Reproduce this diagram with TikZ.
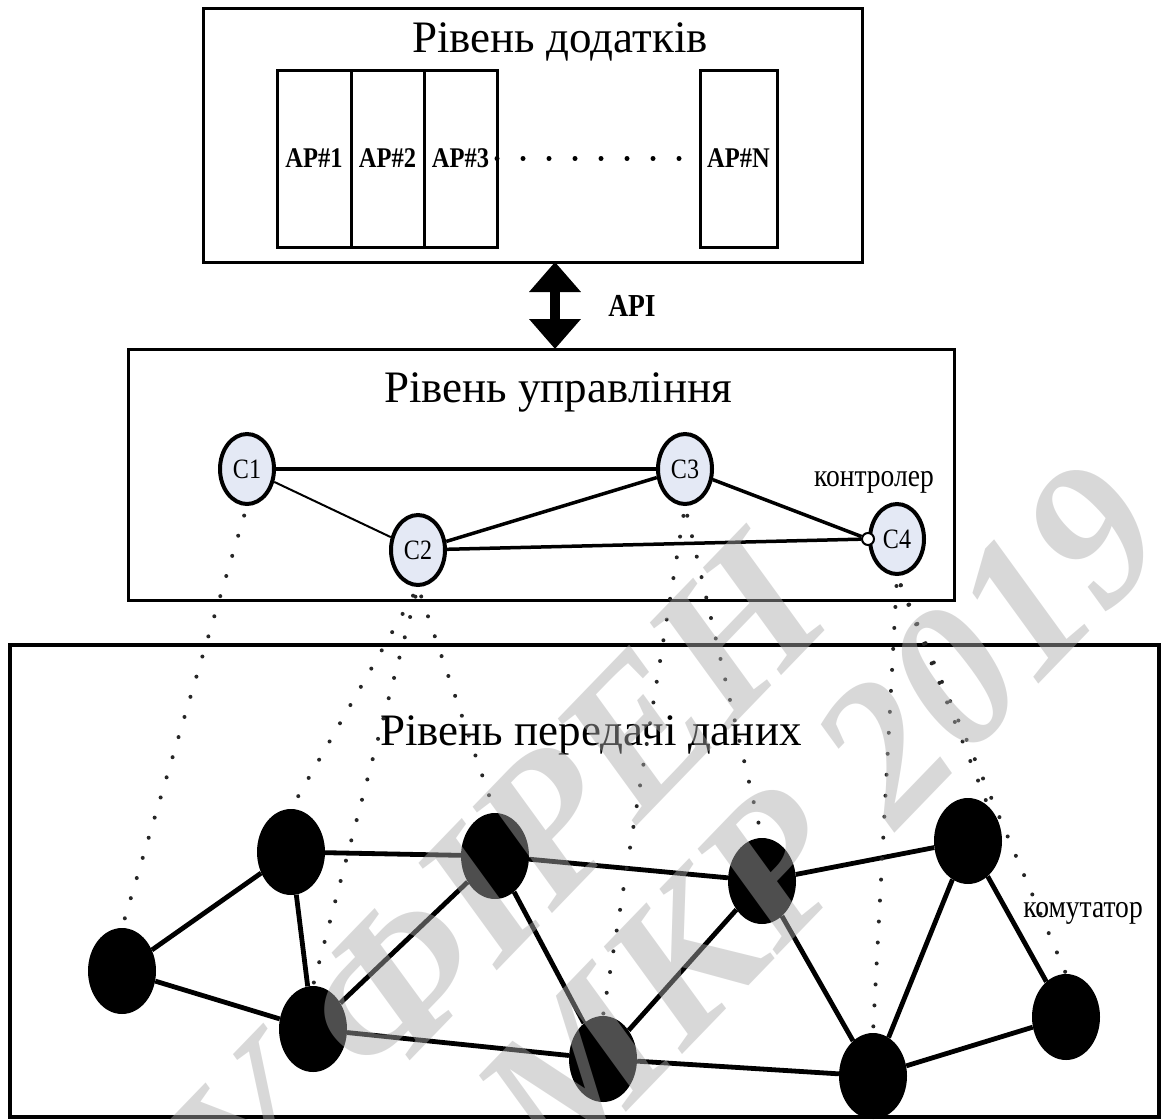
\documentclass[tikz,border=0pt]{standalone}
\usepackage{fontspec}
\setmainfont{Liberation Serif}
\newfontfamily\narrowfont[FakeStretch=0.86]{Liberation Serif}
\usetikzlibrary{shapes.geometric,arrows.meta}

\definecolor{ctrlfill}{RGB}{228,233,245}
\definecolor{dotgray}{gray}{0.15}
\definecolor{markgray}{gray}{0.67}

\begin{document}
\begin{tikzpicture}[x=1pt,y=-1pt,
  layer/.style={draw, line width=3pt, inner sep=0pt, outer sep=0pt},
  title/.style={font=\fontsize{45}{50}\selectfont, anchor=base, inner sep=0pt},
  appbox/.style={draw, line width=3pt, minimum height=177pt, inner sep=0pt, outer sep=0pt,
    font=\narrowfont\bfseries\fontsize{28.5}{30}\selectfont},
  ctrl/.style={ellipse, draw, line width=4pt, fill=ctrlfill, minimum width=54pt,
    minimum height=70pt, inner sep=0pt, font=\narrowfont\fontsize{28}{30}\selectfont},
  switch/.style={ellipse, fill=black, minimum width=68pt, minimum height=86pt, inner sep=0pt},
  clink/.style={line width=3.5pt},
  slink/.style={line width=4.8pt},
  mapline/.style={draw=dotgray, line width=4pt, line cap=round,
    dash pattern=on 0pt off 21pt, dash phase=11pt},
  note/.style={font=\narrowfont\fontsize{32}{34}\selectfont, anchor=base, inner sep=0pt},
  stamp/.style={font=\bfseries\itshape\fontsize{200}{200}\selectfont, text=markgray,
    text opacity=0.46, rotate=46, inner sep=0pt}
]
\useasboundingbox (0,0) rectangle (1164,1119);
\fill[white] (0,0) rectangle (1164,1119);

% the three layers
\node[layer, minimum width=659pt, minimum height=254pt] (apps) at (532.5,135) {};
\node[layer, minimum width=826pt, minimum height=251pt] (ctl) at (541,474.5) {};
\node[layer, line width=3.5pt, minimum width=1149pt, minimum height=472pt] (data) at (584.5,881) {};

\node[title] (tapps) at (560,52) {Рівень додатків};
\node[title] (tctl) at (558,402) {Рівень управління};
\node[title] (tdata) at (591,745) {Рівень передачі даних};

% applications
\node[appbox, minimum width=74pt] (ap1) at (314,158.5) {AP\#1};
\node[appbox, minimum width=73pt] (ap2) at (387.5,158.5) {AP\#2};
\node[appbox, minimum width=73pt] (ap3) at (460.5,158.5) {AP\#3};
\node[appbox, minimum width=77pt] (apn) at (738.5,158.5) {AP\#N};
\draw[line width=5pt, line cap=round, dash pattern=on 0pt off 26pt] (ap3.east) -- (apn.west);

% northbound interface
\coordinate (apix) at (555,0);
\draw[line width=10pt, {Triangle[width=50pt,length=30pt]}-{Triangle[width=50pt,length=30pt]}]
  (apps.south -| apix) -- (ctl.north -| apix);
\node[font=\narrowfont\bfseries\fontsize{32}{34}\selectfont, anchor=base, inner sep=0pt]
  (api) at (632,316) {API};

% controllers
\node[ctrl] (c1) at (247,469) {C1};
\node[ctrl] (c2) at (418,550) {C2};
\node[ctrl] (c3) at (685,469) {C3};
\node[ctrl] (c4) at (897,539) {C4};
\node[circle, draw, line width=2pt, fill=white, minimum size=12pt, inner sep=0pt] (port) at (c4.west) {};
\node[note] (lctrl) at (874,486) {контролер};

\draw[line width=2pt] (c1) -- (c2);
\draw[clink] (c1) -- (c3);
\draw[clink] (c2) -- (c3);
\draw[clink] (c2) -- (port);
\draw[clink] (c3) -- (port);

% switches
\node[switch] (s1) at (122,971) {};
\node[switch] (s2) at (291,852) {};
\node[switch] (s3) at (313,1029) {};
\node[switch] (s4) at (495,856) {};
\node[switch] (s5) at (603,1059) {};
\node[switch] (s6) at (762,881) {};
\node[switch] (s7) at (968,841) {};
\node[switch] (s8) at (873,1076) {};
\node[switch] (s9) at (1066,1017) {};
\node[note] (lsw) at (1083,917) {комутатор};

\foreach \a/\b in {s1/s2, s1/s3, s2/s3, s2/s4, s3/s4, s3/s5, s4/s5, s4/s6,
                   s5/s6, s5/s8, s6/s7, s6/s8, s7/s8, s7/s9, s8/s9}
  \draw[slink] (\a) -- (\b);

% controller-to-switch assignments
\draw[mapline] (c1.south) -- (s1.north);
\draw[mapline] (c2.south) -- (s2.north);
\draw[mapline] (c2.south) -- (s3.north);
\draw[mapline] (c2.south) -- (s4.north);
\draw[mapline] (c3.south) -- (s5.north);
\draw[mapline] (c3.south) -- (s6.north);
\draw[mapline] (c4.south) -- (s8.north);
\draw[mapline] (c4.south) -- (s7.60);
\draw[mapline] (c4.south) -- (s9.north);

% stamp across the page
\node[stamp] (mark1) at (497,878) {У ФІРЕН};
\node[stamp] (mark2) at (820,817) {МКР 2019};
\end{tikzpicture}
\end{document}
